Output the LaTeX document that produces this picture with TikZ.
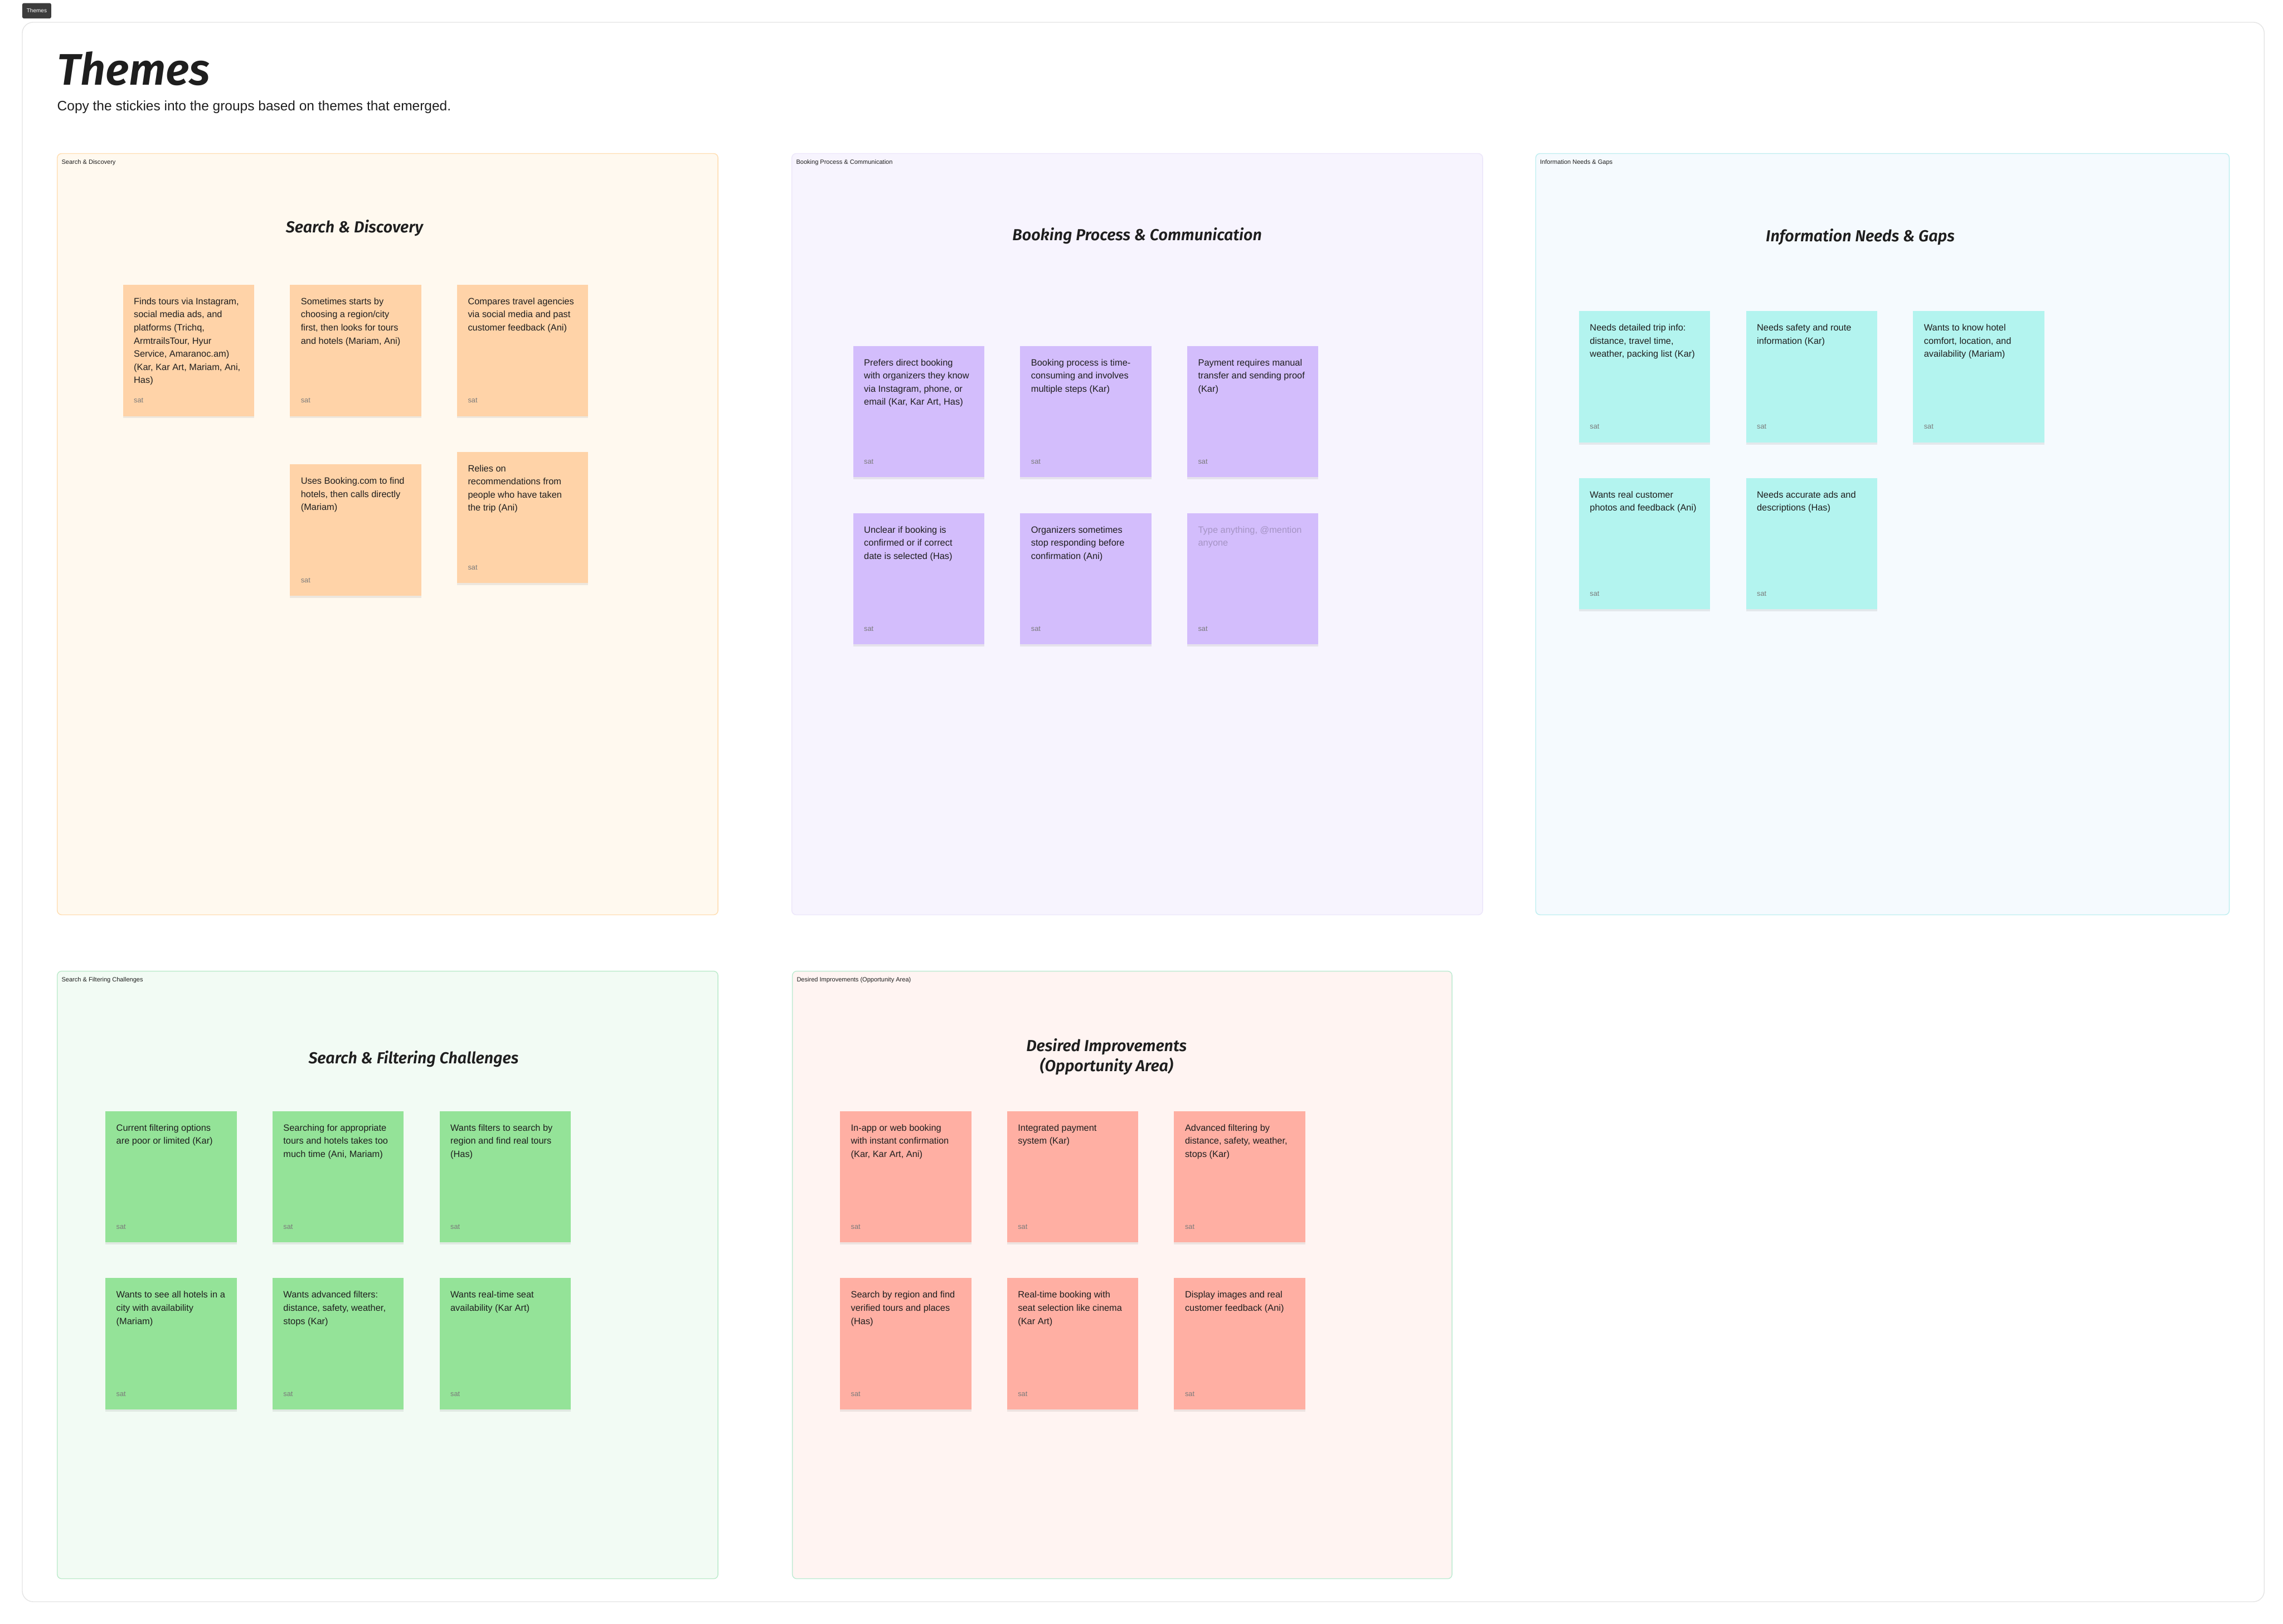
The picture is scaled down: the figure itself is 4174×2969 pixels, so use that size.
\documentclass[tikz,border=0pt]{standalone}
\usepackage{fontspec}
\setmainfont{Liberation Sans}
\newfontfamily\handfont{Fira Sans SemiBold}[ItalicFont={Fira Sans SemiBold Italic}]
\usetikzlibrary{positioning, shadows}
\definecolor{ink}{HTML}{1E1E1E}
\definecolor{satgray}{HTML}{7A7A7A}
\definecolor{hintgray}{HTML}{A594C4}
\definecolor{tagdark}{HTML}{3C3C3C}
\definecolor{boardline}{HTML}{E4E4E4}
\definecolor{sdfill}{HTML}{FFF9EF}
\definecolor{sdline}{HTML}{FFDDB0}
\definecolor{bpfill}{HTML}{F7F4FE}
\definecolor{bpline}{HTML}{ECE6FA}
\definecolor{infill}{HTML}{F5FAFE}
\definecolor{inline}{HTML}{BDEEF0}
\definecolor{sffill}{HTML}{F2FBF4}
\definecolor{sfline}{HTML}{BCEBCB}
\definecolor{difill}{HTML}{FFF4F2}
\definecolor{diline}{HTML}{BCEBD2}
\definecolor{peach}{HTML}{FFD3A8}
\definecolor{lilac}{HTML}{D3BDFC}
\definecolor{aqua}{HTML}{B3F4EF}
\definecolor{mint}{HTML}{94E398}
\definecolor{salmon}{HTML}{FFAFA3}
% sticky body: text at the top, author name at the bottom
\newcommand{\stickynote}[1]{\parbox[t][19.2mm][t]{24mm}{\raggedright\leftskip=2mm #1\par\vfill{\fontsize{3.7}{4}\selectfont\color{satgray}sat}}}

\begin{document}
\begin{tikzpicture}[
    x=0.1mm, y=-0.1mm,
    board/.style={draw=boardline, fill=white, rounded corners=2mm, line width=0.4pt, anchor=north west, inner sep=0pt, minimum width=409.9mm, minimum height=288.8mm},
    panel/.style={rounded corners=0.8mm, line width=0.4pt, anchor=north west, inner sep=0pt},
    tag/.style={anchor=west, inner sep=0pt, text=ink, font=\fontsize{3.2}{4}\selectfont},
    heading/.style={inner sep=0pt, text=ink, align=center, font=\handfont\itshape\fontsize{8.3}{10.5}\selectfont},
    sticky/.style={fill=#1, anchor=north west, inner xsep=0pt, inner ysep=2.4mm, text=ink, font=\fontsize{4.75}{6.83}\selectfont,
        drop shadow={shadow xshift=0mm, shadow yshift=-0.4mm, opacity=0.07, fill=black}}
]
    \fill[white] (0,0) rectangle (4174,2969);
    \useasboundingbox (0,0) rectangle (4174,2969);

    % Board
    \node[board] (frame) at (40,40) {};
    \node[fill=tagdark, rounded corners=0.3mm, anchor=north west, minimum width=5.3mm, minimum height=2.8mm, inner sep=0pt, text=white, font=\fontsize{2.9}{3}\selectfont] (boardtag) at (40,5) {Themes};
    \node[anchor=base west, inner sep=0pt, text=ink, font=\handfont\itshape\fontsize{23}{26}\selectfont] (title) at (104,155) {Themes};
    \node[anchor=base west, inner sep=0pt, text=ink, font=\fontsize{7.1}{8}\selectfont] (subtitle) at (104,202) {Copy the stickies into the groups based on themes that emerged.};

    % Groups
    \node[panel, fill=sdfill, draw=sdline, minimum width=120.8mm, minimum height=139.2mm] (sdpanel) at (104,280) {};
    \node[panel, fill=bpfill, draw=bpline, minimum width=126.3mm, minimum height=139.2mm] (bppanel) at (1447,280) {};
    \node[panel, fill=infill, draw=inline, minimum width=126.8mm, minimum height=139.2mm] (inpanel) at (2807,280) {};
    \node[panel, fill=sffill, draw=sfline, minimum width=120.8mm, minimum height=111.1mm] (sfpanel) at (104,1775) {};
    \node[panel, fill=difill, draw=diline, minimum width=120.6mm, minimum height=111.1mm] (dipanel) at (1448,1775) {};

    \node[tag] (sdtag) at ([xshift=0.8mm, yshift=-1.7mm]sdpanel.north west) {Search \& Discovery};
    \node[tag] (bptag) at ([xshift=0.8mm, yshift=-1.7mm]bppanel.north west) {Booking Process \& Communication};
    \node[tag] (intag) at ([xshift=0.8mm, yshift=-1.7mm]inpanel.north west) {Information Needs \& Gaps};
    \node[tag] (sftag) at ([xshift=0.8mm, yshift=-1.7mm]sfpanel.north west) {Search \& Filtering Challenges};
    \node[tag] (ditag) at ([xshift=0.8mm, yshift=-1.7mm]dipanel.north west) {Desired Improvements (Opportunity Area)};

    \node[heading, anchor=base] (sdhead) at (648,425) {Search \& Discovery};
    \node[heading, anchor=base] (bphead) at (2079,440) {Booking Process \& Communication};
    \node[heading, anchor=base] (inhead) at (3401,442) {Information Needs \& Gaps};
    \node[heading, anchor=base] (sfhead) at (756,1945) {Search \& Filtering Challenges};
    \node[heading] (dihead) at (2023,1932) {Desired Improvements\\(Opportunity Area)};

    % Search & Discovery
    \node[sticky=peach] (sd1) at (224,520) {\stickynote{Finds tours via Instagram,\\social media ads, and\\platforms (Trichq,\\ArmtrailsTour, Hyur\\Service, Amaranoc.am)\\(Kar, Kar Art, Mariam, Ani,\\Has)}};
    \node[sticky=peach, right=6.4mm of sd1] (sd2) {\stickynote{Sometimes starts by\\choosing a region/city\\first, then looks for tours\\and hotels (Mariam, Ani)}};
    \node[sticky=peach, right=6.4mm of sd2] (sd3) {\stickynote{Compares travel agencies\\via social media and past\\customer feedback (Ani)}};
    \node[sticky=peach, below=8.7mm of sd2] (sd4) {\stickynote{Uses Booking.com to find\\hotels, then calls directly\\(Mariam)}};
    \node[sticky=peach, below=6.4mm of sd3] (sd5) {\stickynote{Relies on\\recommendations from\\people who have taken\\the trip (Ani)}};

    % Booking Process & Communication
    \node[sticky=lilac] (bp1) at (1559,632) {\stickynote{Prefers direct booking\\with organizers they know\\via Instagram, phone, or\\email (Kar, Kar Art, Has)}};
    \node[sticky=lilac, right=6.4mm of bp1] (bp2) {\stickynote{Booking process is time-\\consuming and involves\\multiple steps (Kar)}};
    \node[sticky=lilac, right=6.4mm of bp2] (bp3) {\stickynote{Payment requires manual\\transfer and sending proof\\(Kar)}};
    \node[sticky=lilac, below=6.4mm of bp1] (bp4) {\stickynote{Unclear if booking is\\confirmed or if correct\\date is selected (Has)}};
    \node[sticky=lilac, right=6.4mm of bp4] (bp5) {\stickynote{Organizers sometimes\\stop responding before\\confirmation (Ani)}};
    \node[sticky=lilac, right=6.4mm of bp5] (bp6) {\stickynote{\color{hintgray}Type anything, @mention\\anyone}};

    % Information Needs & Gaps
    \node[sticky=aqua] (in1) at (2886,568) {\stickynote{Needs detailed trip info:\\distance, travel time,\\weather, packing list (Kar)}};
    \node[sticky=aqua, right=6.4mm of in1] (in2) {\stickynote{Needs safety and route\\information (Kar)}};
    \node[sticky=aqua, right=6.4mm of in2] (in3) {\stickynote{Wants to know hotel\\comfort, location, and\\availability (Mariam)}};
    \node[sticky=aqua, below=6.4mm of in1] (in4) {\stickynote{Wants real customer\\photos and feedback (Ani)}};
    \node[sticky=aqua, right=6.4mm of in4] (in5) {\stickynote{Needs accurate ads and\\descriptions (Has)}};

    % Search & Filtering Challenges
    \node[sticky=mint] (sf1) at (192,2031) {\stickynote{Current filtering options\\are poor or limited (Kar)}};
    \node[sticky=mint, right=6.4mm of sf1] (sf2) {\stickynote{Searching for appropriate\\tours and hotels takes too\\much time (Ani, Mariam)}};
    \node[sticky=mint, right=6.4mm of sf2] (sf3) {\stickynote{Wants filters to search by\\region and find real tours\\(Has)}};
    \node[sticky=mint, below=6.4mm of sf1] (sf4) {\stickynote{Wants to see all hotels in a\\city with availability\\(Mariam)}};
    \node[sticky=mint, right=6.4mm of sf4] (sf5) {\stickynote{Wants advanced filters:\\distance, safety, weather,\\stops (Kar)}};
    \node[sticky=mint, right=6.4mm of sf5] (sf6) {\stickynote{Wants real-time seat\\availability (Kar Art)}};

    % Desired Improvements
    \node[sticky=salmon] (di1) at (1535,2031) {\stickynote{In-app or web booking\\with instant confirmation\\(Kar, Kar Art, Ani)}};
    \node[sticky=salmon, right=6.4mm of di1] (di2) {\stickynote{Integrated payment\\system (Kar)}};
    \node[sticky=salmon, right=6.4mm of di2] (di3) {\stickynote{Advanced filtering by\\distance, safety, weather,\\stops (Kar)}};
    \node[sticky=salmon, below=6.4mm of di1] (di4) {\stickynote{Search by region and find\\verified tours and places\\(Has)}};
    \node[sticky=salmon, right=6.4mm of di4] (di5) {\stickynote{Real-time booking with\\seat selection like cinema\\(Kar Art)}};
    \node[sticky=salmon, right=6.4mm of di5] (di6) {\stickynote{Display images and real\\customer feedback (Ani)}};
\end{tikzpicture}
\end{document}
